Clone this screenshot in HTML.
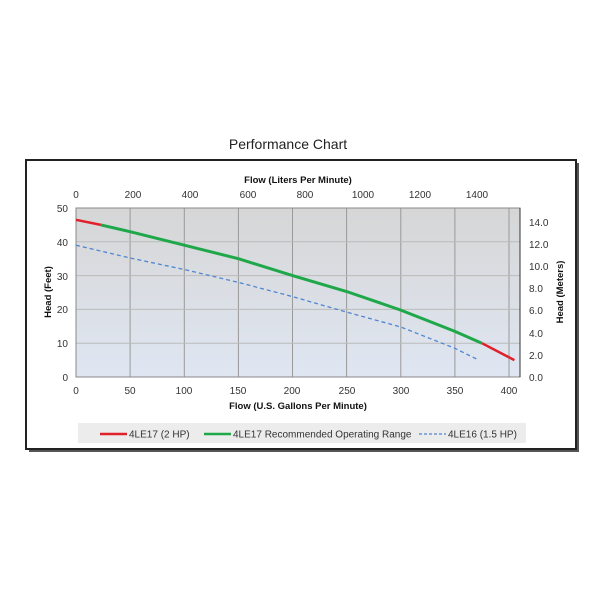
<!DOCTYPE html>
<html><head><style>body{margin:0;background:#fff}svg{display:block}</style></head>
<body>
<svg width="600" height="600" xmlns="http://www.w3.org/2000/svg" font-family="Liberation Sans, sans-serif">
<defs>
<linearGradient id="bg" x1="0" y1="0" x2="0" y2="1"><stop offset="0" stop-color="#d6d6d6"/><stop offset="1" stop-color="#dfe6f2"/></linearGradient>
</defs>
<text x="288" y="149" font-size="14" text-anchor="middle" fill="#222">Performance Chart</text>
<rect x="29" y="163" width="550" height="289" fill="#555"/>
<rect x="26" y="160" width="550" height="289" fill="#fff" stroke="#222" stroke-width="2"/>
<rect x="76" y="208" width="444" height="169" fill="url(#bg)"/>
<g stroke="#999" stroke-width="1">
<line x1="130.1" y1="208" x2="130.1" y2="377"/><line x1="184.3" y1="208" x2="184.3" y2="377"/><line x1="238.4" y1="208" x2="238.4" y2="377"/><line x1="292.5" y1="208" x2="292.5" y2="377"/><line x1="346.6" y1="208" x2="346.6" y2="377"/><line x1="400.8" y1="208" x2="400.8" y2="377"/><line x1="454.9" y1="208" x2="454.9" y2="377"/><line x1="509" y1="208" x2="509" y2="377"/>
</g>
<g stroke="#bbb" stroke-width="1">
<line x1="76" y1="241.8" x2="520" y2="241.8"/><line x1="76" y1="275.6" x2="520" y2="275.6"/><line x1="76" y1="309.4" x2="520" y2="309.4"/><line x1="76" y1="343.2" x2="520" y2="343.2"/>
</g>
<rect x="76" y="208" width="444" height="169" fill="none" stroke="#888"/>
<line x1="520" y1="208" x2="520" y2="377" stroke="#333"/>
<g font-size="10" fill="#333">
<g text-anchor="end">
<text x="68" y="212">50</text><text x="68" y="246">40</text><text x="68" y="280">30</text><text x="68" y="313">20</text><text x="68" y="347">10</text><text x="68" y="381">0</text>
</g>
<g text-anchor="start">
<text x="529" y="226">14.0</text><text x="529" y="248">12.0</text><text x="529" y="270">10.0</text><text x="529" y="292">8.0</text><text x="529" y="314">6.0</text><text x="529" y="337">4.0</text><text x="529" y="359">2.0</text><text x="529" y="381">0.0</text>
</g>
<g text-anchor="middle">
<text x="76" y="394">0</text><text x="130" y="394">50</text><text x="184" y="394">100</text><text x="238" y="394">150</text><text x="292" y="394">200</text><text x="347" y="394">250</text><text x="401" y="394">300</text><text x="455" y="394">350</text><text x="509" y="394">400</text>
<text x="76" y="198">0</text><text x="133" y="198">200</text><text x="190" y="198">400</text><text x="248" y="198">600</text><text x="305" y="198">800</text><text x="363" y="198">1000</text><text x="420" y="198">1200</text><text x="477" y="198">1400</text>
</g>
</g>
<text x="298" y="183" font-size="9.5" font-weight="bold" text-anchor="middle" fill="#111">Flow (Liters Per Minute)</text>
<text x="298" y="409" font-size="9.5" font-weight="bold" text-anchor="middle" fill="#111">Flow (U.S. Gallons Per Minute)</text>
<text transform="translate(51,292) rotate(-90)" font-size="9.5" font-weight="bold" text-anchor="middle" fill="#111">Head (Feet)</text>
<text transform="translate(563,292) rotate(-90)" font-size="9.5" font-weight="bold" text-anchor="middle" fill="#111">Head (Meters)</text>
<polyline points="76,245.2 130.1,258 184.3,269.5 238.4,282.4 292.5,296.6 346.6,312.1 400.8,327 454.9,348.3 478.7,360.1" fill="none" stroke="#4f86d0" stroke-width="1.3" stroke-dasharray="4,3"/>
<polyline points="76,219.8 100.9,224.9" fill="none" stroke="#e0202a" stroke-width="2.5"/>
<polyline points="481.9,343.2 514.4,360.1" fill="none" stroke="#e0202a" stroke-width="2.5"/>
<polyline points="100.9,224.9 130.1,231.7 184.3,245.2 238.4,258.7 292.5,275.6 346.6,291.5 400.8,310.1 454.9,331.4 481.9,343.2" fill="none" stroke="#1fa84a" stroke-width="3"/>
<rect x="78" y="423" width="448" height="20" fill="#ececec"/>
<g font-size="10" fill="#333">
<line x1="100" y1="434" x2="127" y2="434" stroke="#e0202a" stroke-width="2.5"/><text x="129" y="437.5">4LE17 (2 HP)</text>
<line x1="204" y1="434" x2="231" y2="434" stroke="#1fa84a" stroke-width="2.5"/><text x="233" y="437.5">4LE17 Recommended Operating Range</text>
<line x1="419" y1="434" x2="446" y2="434" stroke="#4f86d0" stroke-width="1.3" stroke-dasharray="3,2"/><text x="448" y="437.5">4LE16 (1.5 HP)</text>
</g>
</svg>
</body></html>
